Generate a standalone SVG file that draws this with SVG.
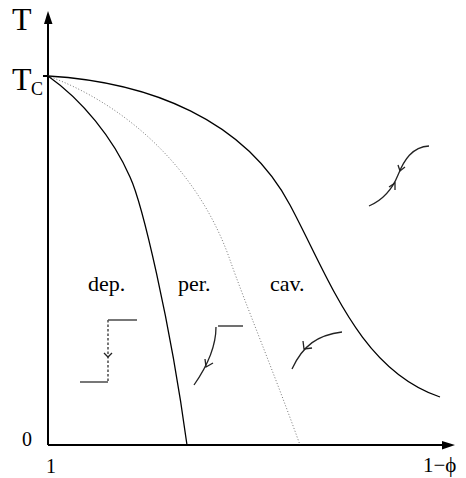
<svg xmlns="http://www.w3.org/2000/svg" width="466" height="478" viewBox="0 0 466 478">
<style>
.ax{stroke:#000;stroke-width:2;fill:none}
.cv{stroke:#000;stroke-width:1.3;fill:none}
.dt{stroke:#777;stroke-width:1;fill:none;stroke-dasharray:1 2}
.ic{stroke:#222;stroke-width:1.3;fill:none}
.icg{stroke:#555;stroke-width:1.6;fill:none}
.t{font-family:"Liberation Serif",serif;fill:#000}
</style>
<rect width="466" height="478" fill="#fff"/>
<g id="axes">
<path class="ax" d="M48,445 V20"/>
<path d="M48,11 L44,24 L52.5,24 Z" fill="#000"/>
<path class="ax" d="M48,445 H446"/>
<path d="M455,445 L442,441 L442,449.5 Z" fill="#000"/>
<path class="ax" d="M43,76 H48" stroke-width="1.5"/>
</g>
<g id="labels">
<text class="t" x="12" y="30" font-size="32">T</text>
<text class="t" x="12" y="90" font-size="32">T</text>
<text class="t" x="31" y="95" font-size="18">C</text>
<text class="t" x="22" y="446" font-size="20">0</text>
<text class="t" x="46" y="473" font-size="20">1</text>
<text class="t" x="423" y="472" font-size="21">1−ϕ</text>
<text class="t" x="88" y="291" font-size="22">dep.</text>
<text class="t" x="178" y="291" font-size="22">per.</text>
<text class="t" x="270" y="291" font-size="22">cav.</text>
</g>
<g id="connectors">
<path id="cav-boundary" class="cv" d="M48,76 C150,82 245,120 290,205 C330,280 360,370 440,397"/>
<path id="per-boundary" class="dt" d="M48,76 C115,100 195,160 230,260 C245,303 275,375 300,445"/>
<path id="dep-boundary" class="cv" d="M48,76 C82,100 113,138 130,177 C142,203 170,320 187,445"/>
</g>
<g id="icon-dep">
<path class="icg" d="M108,320 H137"/>
<path class="icg" d="M80,382 H108"/>
<path class="icg" d="M108,320 V382" stroke-dasharray="2.5 2"/>
<path class="ic" d="M104,353 L108,357 L112,353"/>
</g>
<g id="icon-per">
<path class="ic" d="M218,326 H243"/>
<path class="ic" d="M216,327 C216,345 208,365 194,385"/>
<path class="ic" d="M205,359 L206,367 L213,363"/>
</g>
<g id="icon-cav">
<path class="ic" d="M342,332 C318,335 303,345 292,369"/>
<path class="ic" d="M303,341 L304,349 L312,348"/>
</g>
<g id="icon-right">
<path class="ic" d="M369,206 C383,200 392,190 398,175 C404,160 412,147 429,146"/>
<path class="ic" d="M389,187 L395,183 L395,190"/>
<path class="ic" d="M398,165 L400,171 L405,167"/>
</g>
</svg>
